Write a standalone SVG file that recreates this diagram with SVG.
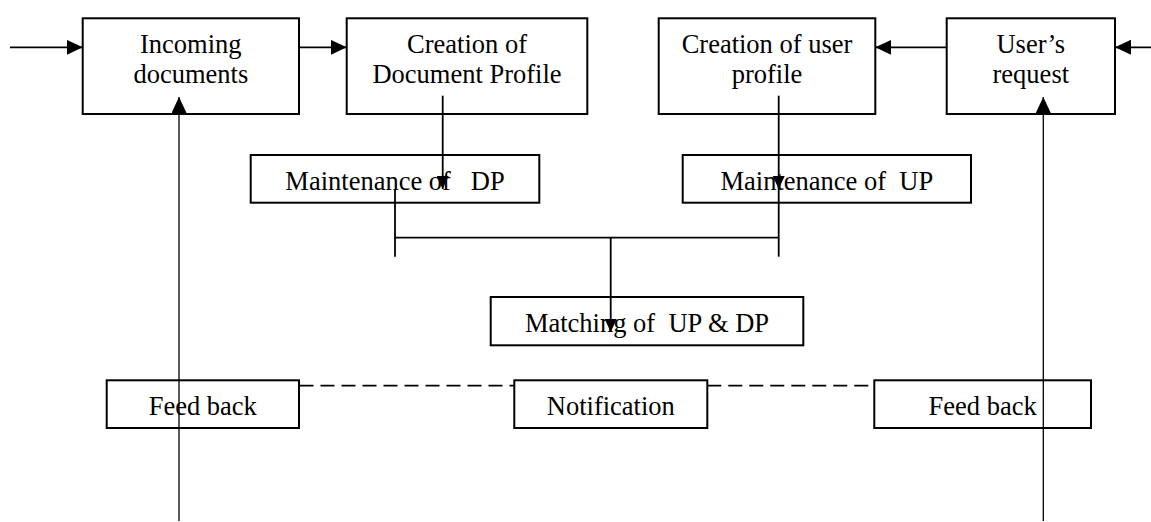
<svg xmlns="http://www.w3.org/2000/svg" width="1151" height="522" viewBox="0 0 1151 522">
  <style>
    .box { fill: #ffffff; stroke: #000000; stroke-width: 2; }
    .lbl { font-family: "Liberation Serif", "Times New Roman", serif; font-size: 26.5px; fill: #000000; text-anchor: middle; white-space: pre; }
    .ln { fill: none; stroke: #000000; stroke-width: 1.8; }
    .thin { fill: none; stroke: #000000; stroke-width: 1.3; }
    .dash { fill: none; stroke: #000000; stroke-width: 1.8; stroke-dasharray: 14 7; }
  </style>
  <defs>
    <marker id="ah" markerUnits="userSpaceOnUse" markerWidth="17" markerHeight="16" refX="16" refY="7.5" orient="auto">
      <path d="M0,0 L16,7.5 L0,15 z" fill="#000000"/>
    </marker>
    <marker id="ahs" markerUnits="userSpaceOnUse" markerWidth="14" markerHeight="13" refX="13" refY="6" orient="auto">
      <path d="M0,0 L13,6 L0,12 z" fill="#000000"/>
    </marker>
  </defs>

  <g id="node-incoming">
    <rect class="box" x="82.7" y="18.3" width="216.3" height="95.7"/>
    <text class="lbl" x="190.8" y="52.7">Incoming</text>
    <text class="lbl" x="190.8" y="83.3">documents</text>
  </g>
  <g id="node-creation-dp">
    <rect class="box" x="346.7" y="18.3" width="240.6" height="95.7"/>
    <text class="lbl" x="467" y="52.7">Creation of</text>
    <text class="lbl" x="467" y="83.3">Document Profile</text>
  </g>
  <g id="node-creation-up">
    <rect class="box" x="658.7" y="18.3" width="216.6" height="95.7"/>
    <text class="lbl" x="767" y="52.7">Creation of user</text>
    <text class="lbl" x="767" y="83.3">profile</text>
  </g>
  <g id="node-user-request">
    <rect class="box" x="946.7" y="18.3" width="168.3" height="95.7"/>
    <text class="lbl" x="1030.8" y="52.7">User’s</text>
    <text class="lbl" x="1030.8" y="83.3">request</text>
  </g>
  <g id="node-maint-dp">
    <rect class="box" x="250.7" y="155" width="288.6" height="47.7"/>
    <text class="lbl" x="395" y="190">Maintenance of   DP</text>
  </g>
  <g id="node-maint-up">
    <rect class="box" x="682.7" y="155" width="288.3" height="47.7"/>
    <text class="lbl" x="826.8" y="190">Maintenance of  UP</text>
  </g>
  <g id="node-matching">
    <rect class="box" x="490.7" y="297" width="312.6" height="48.3"/>
    <text class="lbl" x="647" y="332">Matching of  UP &amp; DP</text>
  </g>
  <g id="node-feedback-left">
    <rect class="box" x="106.7" y="380.3" width="192.3" height="47.7"/>
    <text class="lbl" x="202.8" y="414.7">Feed back</text>
  </g>
  <g id="node-notification">
    <rect class="box" x="514.3" y="380.3" width="193" height="47.7"/>
    <text class="lbl" x="610.8" y="414.7">Notification</text>
  </g>
  <g id="node-feedback-right">
    <rect class="box" x="874.3" y="380.3" width="216.7" height="47.7"/>
    <text class="lbl" x="982.7" y="414.7">Feed back</text>
  </g>

  <g id="connectors">
    <line class="ln" x1="10" y1="47.3" x2="82.7" y2="47.3" marker-end="url(#ah)"/>
    <line class="ln" x1="299" y1="47.3" x2="346.7" y2="47.3" marker-end="url(#ah)"/>
    <line class="ln" x1="946.7" y1="47.3" x2="875.3" y2="47.3" marker-end="url(#ah)"/>
    <line class="ln" x1="1151" y1="47.3" x2="1115" y2="47.3" marker-end="url(#ah)"/>
    <line class="thin" x1="179" y1="521" x2="179" y2="97" marker-end="url(#ah)"/>
    <line class="thin" x1="1043.3" y1="521" x2="1043.3" y2="97" marker-end="url(#ah)"/>
    <line class="ln" x1="442.7" y1="95.7" x2="442.7" y2="189" marker-end="url(#ahs)"/>
    <line class="ln" x1="778.7" y1="95.7" x2="778.7" y2="189" marker-end="url(#ahs)"/>
    <line class="ln" x1="778.7" y1="185" x2="778.7" y2="256.7"/>
    <line class="ln" x1="395" y1="190" x2="395" y2="256.7"/>
    <line class="ln" x1="395" y1="237.7" x2="778.7" y2="237.7"/>
    <line class="ln" x1="610.7" y1="237.7" x2="610.7" y2="332" marker-end="url(#ahs)"/>
    <line class="dash" x1="299.5" y1="385.7" x2="514.3" y2="385.7"/>
    <line class="dash" x1="707.3" y1="385.7" x2="874.3" y2="385.7"/>
  </g>
</svg>
